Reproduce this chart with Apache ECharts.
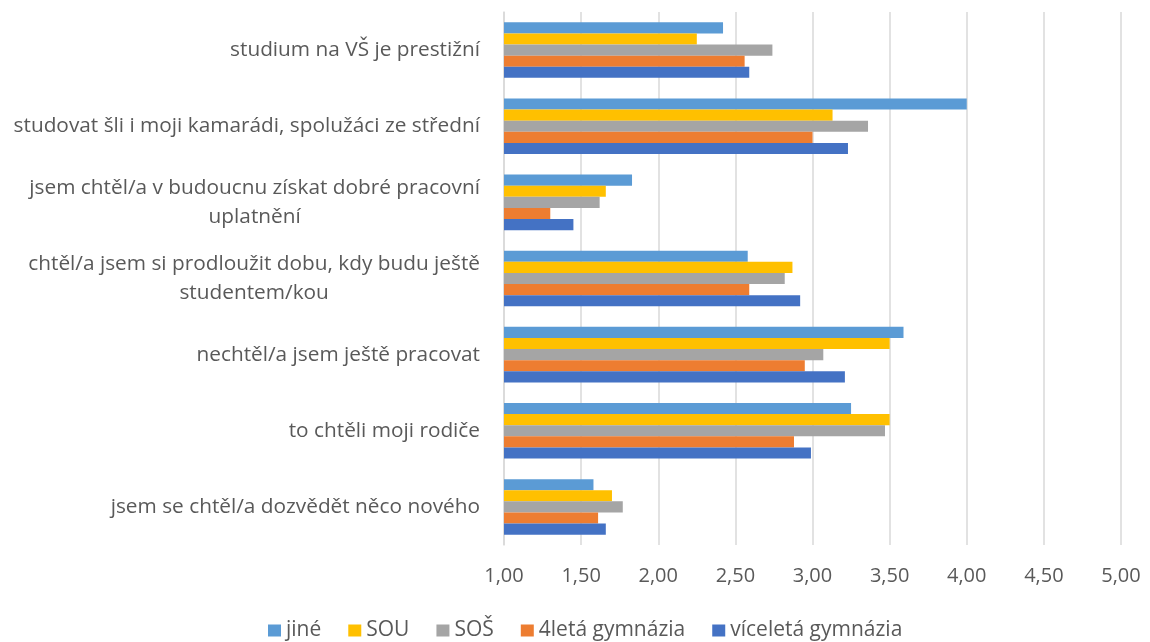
<!DOCTYPE html>
<html>
<head>
<meta charset="utf-8">
<script src="https://cdn.jsdelivr.net/npm/echarts@6/dist/echarts.min.js"></script>
<style>
  html, body { margin: 0; padding: 0; background: #fff; }
  #container { width: 1150px; height: 642px; }
</style>
</head>
<body>
<div id="container"></div>
<script>
var dom = document.getElementById("container");
var myChart = echarts.init(dom);

// kategorie shora dolů
var categories = [
    'studium na VŠ je prestižní',
    'studovat šli i moji kamarádi, spolužáci ze střední',
    'jsem chtěl/a v budoucnu získat dobré pracovní\nuplatnění',
    'chtěl/a jsem si prodloužit dobu, kdy budu ještě\nstudentem/kou',
    'nechtěl/a jsem ještě pracovat',
    'to chtěli moji rodiče',
    'jsem se chtěl/a dozvědět něco nového'
];

var jine      = [2.42, 4.00, 1.83, 2.58, 3.59, 3.25, 1.58];
var sou       = [2.25, 3.13, 1.66, 2.87, 3.50, 3.50, 1.70];
var sos       = [2.74, 3.36, 1.62, 2.82, 3.07, 3.47, 1.77];
var ctyrleta  = [2.56, 3.00, 1.30, 2.59, 2.95, 2.88, 1.61];
var viceleta  = [2.59, 3.23, 1.45, 2.92, 3.21, 2.99, 1.66];

var xTicks = { min: 1, max: 5, interval: 0.5 };

var textColor = '#595959';
var fontFamily = '"Open Sans", "Noto Sans", sans-serif';

function barSeries(name, data, color) {
    return {
        name: name,
        type: 'bar',
        data: data,
        barGap: '0%',
        barCategoryGap: '27%',
        itemStyle: { color: color },
        emphasis: { disabled: true }
    };
}

option = {
    animation: false,
    textStyle: { fontFamily: fontFamily, color: textColor },
    grid: {
        left: 504,
        right: 29,
        top: 12,
        bottom: 97
    },
    legend: {
        top: 615,
        left: 263,
        itemWidth: 13,
        itemHeight: 12,
        itemGap: 27,
        icon: 'rect',
        textStyle: { fontSize: 21, color: textColor, fontFamily: fontFamily },
        data: ['jiné', 'SOU', 'SOŠ', '4letá gymnázia', 'víceletá gymnázia']
    },
    xAxis: {
        type: 'value',
        min: xTicks.min,
        max: xTicks.max,
        interval: xTicks.interval,
        axisLine: { show: false },
        axisTick: { show: false },
        splitLine: { lineStyle: { color: '#d9d9d9', width: 1.5 } },
        axisLabel: {
            margin: 21,
            fontSize: 20,
            color: textColor,
            fontFamily: fontFamily,
            formatter: function (v) { return v.toFixed(2).replace('.', ','); }
        }
    },
    yAxis: {
        type: 'category',
        inverse: true,
        data: categories,
        axisTick: { show: false },
        axisLine: { lineStyle: { color: '#d9d9d9', width: 1.5 } },
        axisLabel: {
            margin: 24,
            align: 'right',
            formatter: function (v) {
                return v.split('\n').map(function (s) { return '{c|' + s + '}'; }).join('\n');
            },
            rich: {
                c: {
                    align: 'center',
                    fontSize: 20.8,
                    lineHeight: 29,
                    color: textColor,
                    fontFamily: fontFamily
                }
            }
        }
    },
    series: [
        barSeries('jiné', jine, '#5b9bd5'),
        barSeries('SOU', sou, '#ffc000'),
        barSeries('SOŠ', sos, '#a5a5a5'),
        barSeries('4letá gymnázia', ctyrleta, '#ed7d31'),
        barSeries('víceletá gymnázia', viceleta, '#4472c4')
    ]
};

myChart.setOption(option, true);
</script>
</body>
</html>
